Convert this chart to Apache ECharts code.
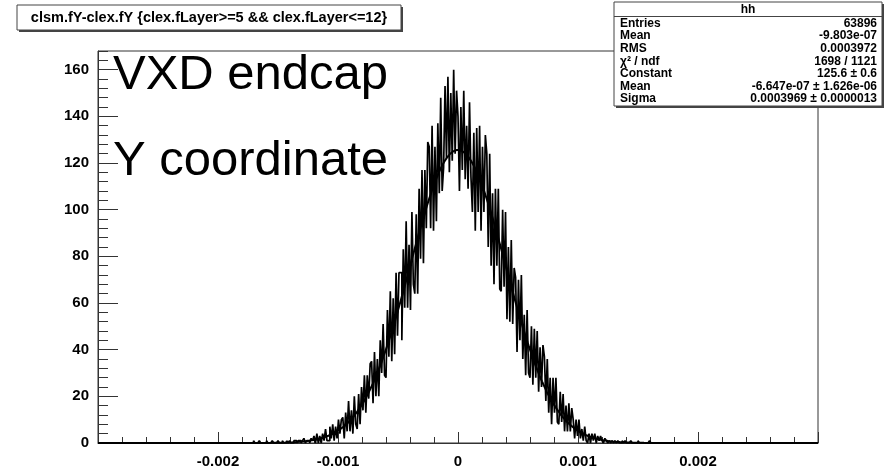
<!DOCTYPE html>
<html>
<head>
<meta charset="utf-8">
<script src="https://cdn.jsdelivr.net/npm/echarts@6/dist/echarts.min.js"></script>
<style>
  html, body { margin: 0; padding: 0; background: #fff; }
  #chart { width: 885px; height: 476px; }
</style>
</head>
<body>
<div id="chart"></div>
<script>
// Histogram title and on-plot annotations
const histTitle = 'clsm.fY-clex.fY {clex.fLayer>=5 && clex.fLayer<=12}';
const annotationLines = ['VXD endcap', 'Y coordinate'];

// Binning of the residual histogram (clsm.fY - clex.fY)
const binStart = -0.0018;
const binWidth = 0.000012;
const binCounts = [
  0,0,0,0,0,0,0,0,1,0,
  0,0,1,0,0,0,0,1,0,0,
  0,1,0,0,0,1,0,0,1,0,
  0,1,0,1,0,0,1,1,0,1,
  1,0,1,2,0,1,1,0,2,1,
  3,0,4,0,3,0,4,1,6,1,
  1,7,2,8,1,7,2,10,4,10,
  11,2,13,5,18,5,14,4,20,8,
  6,21,8,24,14,29,13,29,19,34,
  35,17,39,20,36,20,44,30,51,29,
  28,57,37,65,35,62,38,73,46,73,
  73,44,83,58,95,58,85,57,99,68,
  64,98,64,109,79,117,77,117,92,129,
  127,92,136,91,127,95,137,107,148,108,
  118,153,122,157,116,150,121,160,124,151,
  140,108,144,117,151,113,136,109,146,114,
  99,133,91,135,99,136,91,127,99,132,
  124,84,124,76,107,68,109,76,109,66,
  65,100,67,99,53,84,52,87,51,75,
  71,39,70,44,72,36,55,29,57,30,
  28,50,25,49,28,48,22,41,24,42,
  37,18,36,13,28,8,28,13,28,9,
  8,22,9,21,5,16,5,17,5,15,
  10,2,10,3,10,2,6,1,7,1,
  0,4,0,4,1,4,0,3,1,3,
  1,0,2,1,0,1,0,1,0,1,
  0,1,0,0,1,0,1,0,0,0,
  1,0,0,0,0,1,0,0,0,0,
  0,0,0,1,0,0,0,0,0,0,
  0,0,0,0,0,0,0,0,0,0
];

// Axis ranges
const xRange = [-0.003, 0.003];
const yRange = [0, 168];

// Statistics box contents
const statsName = 'hh';
const statsLabels = ['Entries', 'Mean', 'RMS', 'χ² / ndf', 'Constant', 'Mean', 'Sigma'];
const statsValues = ['63896', '-9.803e-07', '0.0003972', '1698 / 1121', '125.6 ± 0.6',
                     '-6.647e-07 ± 1.626e-06', '0.0003969 ± 0.0000013'];

// Gaussian fit parameters (as listed in the statistics box)
const fitConstant = 125.6;
const fitMean = -6.647e-07;
const fitSigma = 0.0003969;

// Build the step outline of the histogram
const histPoints = [[xRange[0], 0]];
binCounts.forEach((c, i) => histPoints.push([binStart + i * binWidth, c]));
histPoints.push([binStart + binCounts.length * binWidth, 0]);
histPoints.push([xRange[1], 0]);

// Gaussian fit curve
const fitPoints = [];
const nFit = 600;
for (let i = 0; i <= nFit; i++) {
  const x = xRange[0] + (xRange[1] - xRange[0]) * i / nFit;
  const z = (x - fitMean) / fitSigma;
  fitPoints.push([x, fitConstant * Math.exp(-0.5 * z * z)]);
}

const FONT = '"Liberation Sans", Arial, Helvetica, sans-serif';
const AX = '#333';

const chart = echarts.init(document.getElementById('chart'), null, { renderer: 'canvas' });

const graphics = [];
// title pave with shadow
graphics.push({ type: 'rect', z: 100, shape: { x: 19, y: 7, width: 384, height: 25 }, style: { fill: '#444' } });
graphics.push({ type: 'rect', z: 101, shape: { x: 17, y: 5, width: 384, height: 25 }, style: { fill: '#fff', stroke: '#444', lineWidth: 1 } });
graphics.push({ type: 'text', z: 102, style: { x: 209, y: 18, text: histTitle, font: 'bold 14.5px ' + FONT, fill: '#000', align: 'center', verticalAlign: 'middle' } });

// annotations
annotationLines.forEach((t, i) => {
  graphics.push({ type: 'text', z: 50, style: { x: 113, y: [75.5, 161.5][i], text: t, font: '49px ' + FONT, fill: '#000', align: 'left', verticalAlign: 'middle' } });
});

// statistics pave with shadow
graphics.push({ type: 'rect', z: 100, shape: { x: 616, y: 4, width: 268, height: 104 }, style: { fill: '#444' } });
graphics.push({ type: 'rect', z: 101, shape: { x: 614, y: 2, width: 268, height: 104 }, style: { fill: '#fff', stroke: '#444', lineWidth: 1 } });
graphics.push({ type: 'text', z: 102, style: { x: 748, y: 9.5, text: statsName, font: 'bold 12px ' + FONT, fill: '#000', align: 'center', verticalAlign: 'middle' } });
graphics.push({ type: 'line', z: 102, shape: { x1: 614, y1: 16.5, x2: 882, y2: 16.5 }, style: { stroke: '#444', lineWidth: 1 } });
statsLabels.forEach((lab, i) => {
  const y = 23.5 + i * 12.6;
  graphics.push({ type: 'text', z: 102, style: { x: 620, y: y, text: lab, font: 'bold 12px ' + FONT, fill: '#000', align: 'left', verticalAlign: 'middle' } });
  graphics.push({ type: 'text', z: 102, style: { x: 877, y: y, text: statsValues[i], font: 'bold 12px ' + FONT, fill: '#000', align: 'right', verticalAlign: 'middle' } });
});

const option = {
  animation: false,
  backgroundColor: '#fff',
  grid: { left: 98, right: 67, top: 51, bottom: 33, show: true, borderColor: AX, borderWidth: 1, backgroundColor: 'transparent' },
  xAxis: {
    type: 'value', min: xRange[0], max: xRange[1], interval: 0.001,
    axisLine: { show: true, onZero: false, lineStyle: { color: AX, width: 1 } },
    axisTick: { show: true, inside: true, length: 11, lineStyle: { color: AX } },
    minorTick: { show: true, splitNumber: 5, length: 6, lineStyle: { color: AX } },
    splitLine: { show: false }, minorSplitLine: { show: false },
    axisLabel: { showMinLabel: false, showMaxLabel: false, margin: 11, color: '#000',
                 fontFamily: FONT, fontWeight: 'bold', fontSize: 15,
                 formatter: v => (Math.abs(v) < 1e-12 ? '0' : String(+v.toFixed(4))) }
  },
  yAxis: [
    {
      type: 'value', min: yRange[0], max: yRange[1], interval: 4, position: 'left',
      axisLine: { show: true, onZero: false, lineStyle: { color: AX } },
      axisTick: { show: true, inside: true, length: 10, lineStyle: { color: AX } },
      splitLine: { show: false }, axisLabel: { show: false }
    },
    {
      type: 'value', min: yRange[0], max: yRange[1], interval: 20, position: 'left',
      axisLine: { show: false, onZero: false },
      axisTick: { show: true, inside: true, length: 20, lineStyle: { color: AX } },
      splitLine: { show: false },
      axisLabel: { showMaxLabel: false, margin: 9, color: '#000', fontFamily: FONT, fontWeight: 'bold', fontSize: 15 }
    }
  ],
  series: [
    {
      name: 'hh', type: 'line', step: 'end', data: histPoints, showSymbol: false, symbol: 'none',
      lineStyle: { color: '#000', width: 1.7 }, clip: true, z: 3, silent: true
    },
    {
      name: 'gaus', type: 'line', data: fitPoints, showSymbol: false, symbol: 'none', smooth: false,
      lineStyle: { color: '#000', width: 2 }, clip: true, z: 4, silent: true
    }
  ],
  graphic: graphics
};

chart.setOption(option);
</script>
</body>
</html>
